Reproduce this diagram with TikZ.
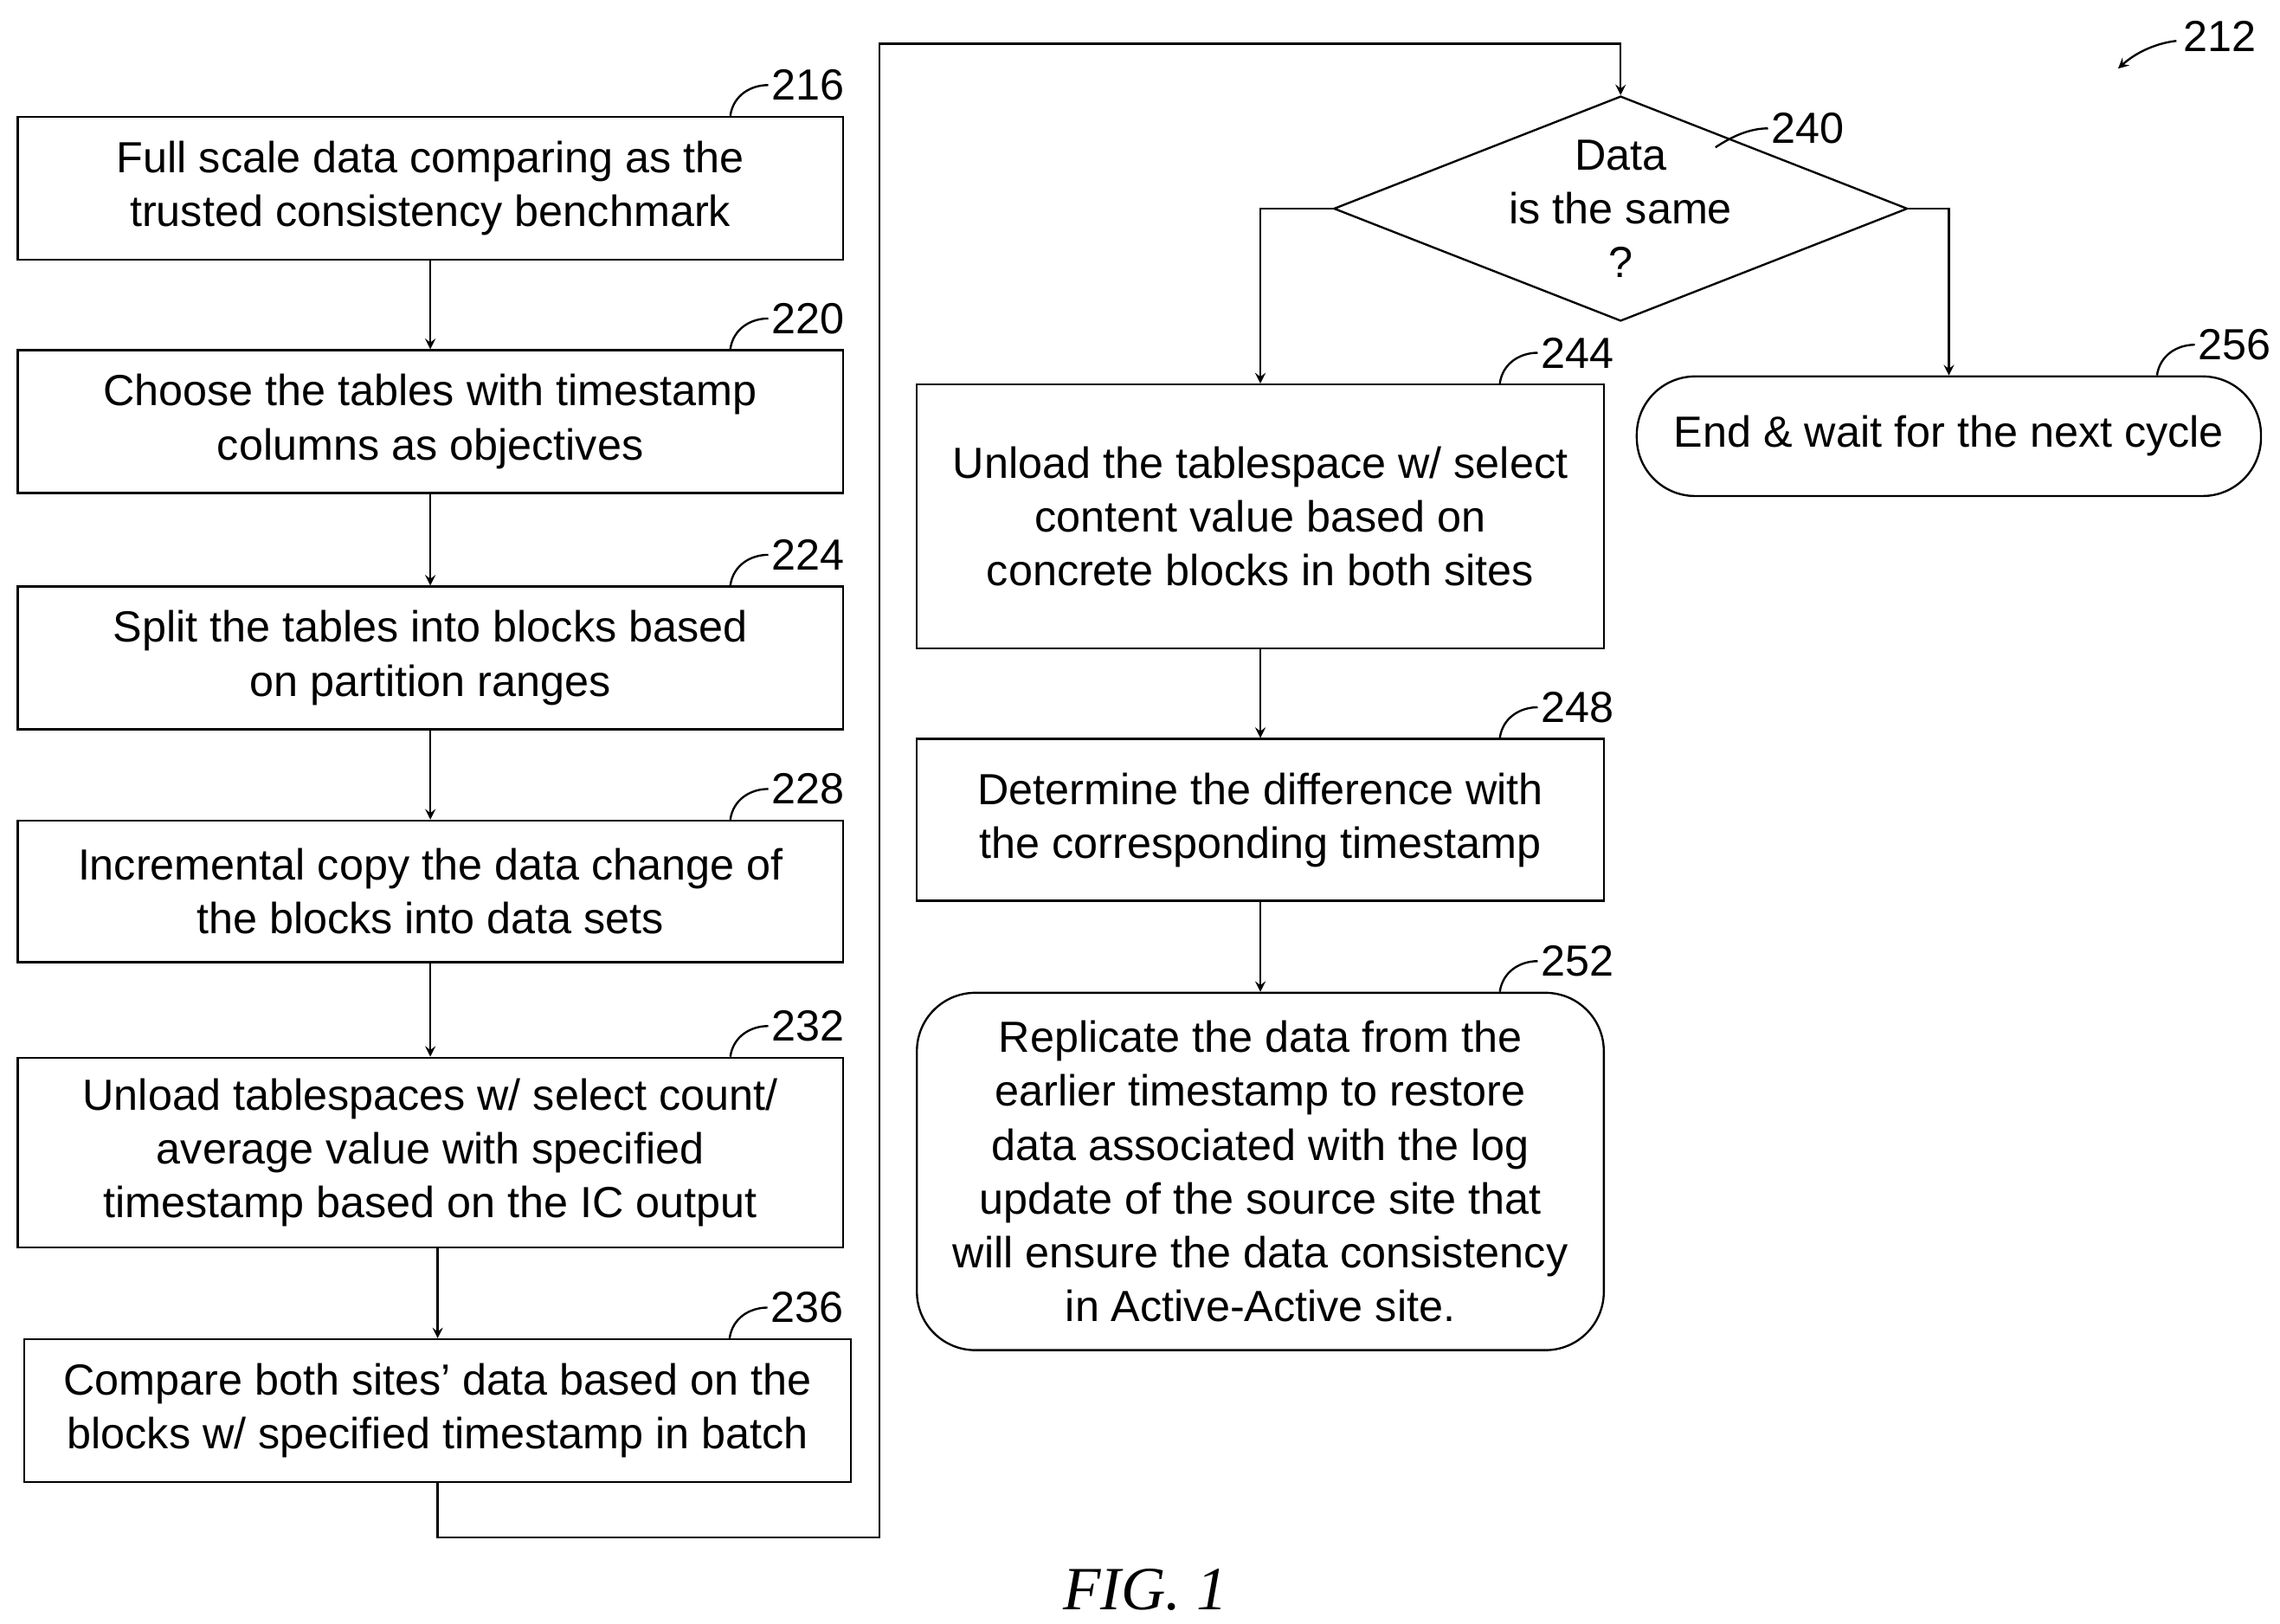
\documentclass[tikz,border=0pt]{standalone}
\usepackage{fontspec}
\setmainfont{Liberation Sans}
\newfontfamily\figfont{Liberation Serif}
\usetikzlibrary{shapes.geometric}

\tikzset{
  box/.style={draw,thick,align=center,inner sep=0pt,font=\fontsize{17}{21}\selectfont},
  rbox/.style={box,rounded corners=0.8cm},
  flow/.style={->,thick,>=stealth},
  lead/.style={thick},
  num/.style={font=\fontsize{17}{21}\selectfont,inner sep=1pt}
}
% reference number with curved leader at a node's top right
\newcommand{\reftag}[3]{\draw[lead] ([shift={(#2,0)}]#1.north east) .. controls +(2,-14) and +(-12,0) .. ++(26,-21) node[num,right] {#3};}

\begin{document}
\begin{tikzpicture}[x=0.02cm,y=-0.02cm]
\useasboundingbox (0,0) rectangle (1563,1113);

% left column
\node[box,minimum width=11.32cm,minimum height=1.96cm] (n216) at (295,129) {Full scale data comparing as the\\trusted consistency benchmark};
\node[box,minimum width=11.32cm,minimum height=1.96cm] (n220) at (295,289) {Choose the tables with timestamp\\columns as objectives};
\node[box,minimum width=11.32cm,minimum height=1.96cm] (n224) at (295,451) {Split the tables into blocks based\\on partition ranges};
\node[box,minimum width=11.32cm,minimum height=1.94cm] (n228) at (295,611) {Incremental copy the data change of\\the blocks into data sets};
\node[box,minimum width=11.32cm,minimum height=2.6cm] (n232) at (295,790) {Unload tablespaces w/ select count/\\average value with specified\\timestamp based on the IC output};
\node[box,minimum width=11.34cm,minimum height=1.96cm] (n236) at (300,967) {Compare both sites' data based on the\\blocks w/ specified timestamp in batch};

% right part
\node[diamond,draw,thick,aspect=2.55,inner sep=0pt,minimum width=6.44cm,minimum height=2.52cm,align=center,font=\fontsize{17}{21}\selectfont] (n240) at (1111,143) {Data\\is the same\\?};
\node[box,minimum width=9.42cm,minimum height=3.62cm] (n244) at (864,354) {Unload the tablespace w/ select\\content value based on\\concrete blocks in both sites};
\node[box,minimum width=9.42cm,minimum height=2.22cm] (n248) at (864,562) {Determine the difference with\\the corresponding timestamp};
\node[rbox,minimum width=9.42cm,minimum height=4.9cm] (n252) at (864,803) {Replicate the data from the\\earlier timestamp to restore\\data associated with the log\\update of the source site that\\will ensure the data consistency\\in Active-Active site.};
\node[box,rounded corners=0.8cm,minimum width=8.56cm,minimum height=1.64cm] (n256) at (1336,299) {End \& wait for the next cycle};

\coordinate (c1) at (300,1054);
\coordinate (c2) at (603,1054);
\coordinate (c3) at (603,30);
\coordinate (c4) at (1111,30);

% connectors
\draw[flow] (n216) -- (n220);
\draw[flow] (n220) -- (n224);
\draw[flow] (n224) -- (n228);
\draw[flow] (n228) -- (n232);
\draw[flow] (n232.south -| n236.north) -- (n236.north);
\draw[flow] (n236.south) -- (c1) -- (c2) -- (c3) -- (c4) -- (n240.north);
\draw[flow] (n240.west) -| (n244.north);
\draw[flow] (n240.east) -| (n256.north);
\draw[flow] (n244) -- (n248);
\draw[flow] (n248) -- (n252);

% reference numbers
\reftag{n216}{-78}{216}
\reftag{n220}{-78}{220}
\reftag{n224}{-78}{224}
\reftag{n228}{-78}{228}
\reftag{n232}{-78}{232}
\reftag{n236}{-84}{236}
\reftag{n244}{-72}{244}
\reftag{n248}{-72}{248}
\reftag{n252}{-72}{252}
\reftag{n256}{-72}{256}
\coordinate (d240) at (1176,101);
\draw[lead] (d240) .. controls +(12,-8) and +(-12,0) .. (1212,88) node[num,right] {240};
\node[num] (n212) at (1522,25) {212};
\draw[flow] (1492,28) .. controls (1475,30) and (1462,38) .. (1452,47);

\node[font=\figfont\itshape\fontsize{24}{28}\selectfont] (fig) at (785,1090) {FIG. 1};
\end{tikzpicture}
\end{document}
